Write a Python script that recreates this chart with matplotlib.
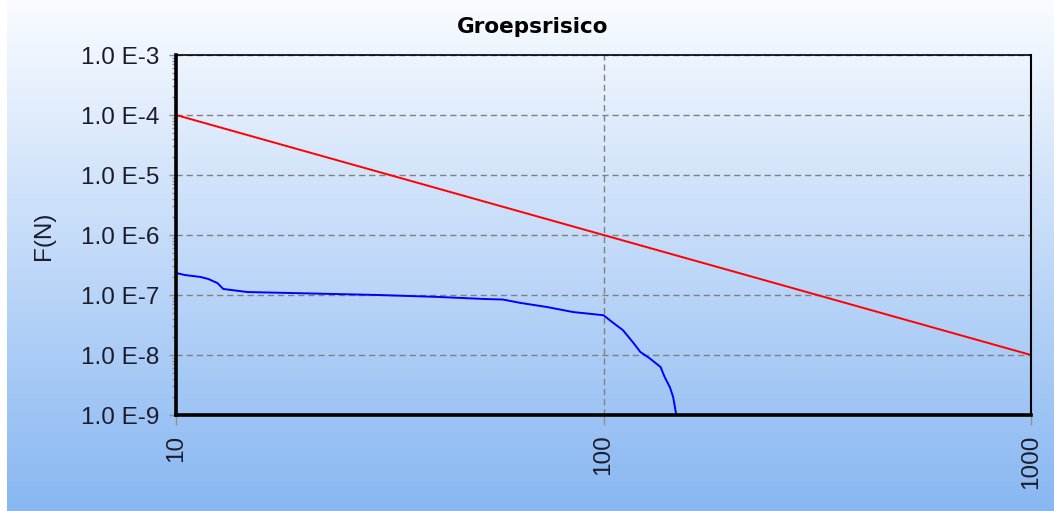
import numpy as np
import matplotlib
matplotlib.use('Agg')
import matplotlib.pyplot as plt
from matplotlib.ticker import LogLocator, FixedLocator, FuncFormatter, NullLocator

# Norm line (orientatiewaarde)
norm_n = [10, 1000]
norm_f = [1e-4, 1e-8]

# FN-curve, values
fn_n = [10, 10.5, 11.4, 11.9, 12.5, 12.9, 14.7, 18.5, 29.7, 40.8, 52.3, 58.2,
        63.8, 73.8, 84.9, 100, 105, 111, 117, 122, 128, 136, 139, 143, 145.5, 148]
fn_f = [2.33e-7, 2.15e-7, 2.0e-7, 1.85e-7, 1.58e-7, 1.26e-7, 1.12e-7, 1.08e-7,
        1.0e-7, 9.3e-8, 8.6e-8, 8.4e-8, 7.4e-8, 6.3e-8, 5.2e-8, 4.6e-8, 3.5e-8,
        2.6e-8, 1.65e-8, 1.12e-8, 8.9e-9, 6.3e-9, 4.3e-9, 2.9e-9, 2.0e-9, 1.0e-9]

x_ticks = [10, 100, 1000]
y_ticks = [1e-9, 1e-8, 1e-7, 1e-6, 1e-5, 1e-4, 1e-3]

W, H = 1054, 511
fig = plt.figure(figsize=(W / 100, H / 100), dpi=100)
fig.patch.set_facecolor('white')

# achtergrond met verloop (wit boven, lichtblauw onder)
bg = fig.add_axes([7 / W, 0, 1 - 7 / W, 1], zorder=-10)
top = np.array([250, 252, 255]) / 255
bot = np.array([136, 183, 242]) / 255
t = np.linspace(0, 1, 256)[:, None]
grad = (top[None, :] * (1 - t) + bot[None, :] * t)[:, None, :]
bg.imshow(grad, aspect='auto', extent=[0, 1, 0, 1])
bg.axis('off')

ax = fig.add_axes([176 / W, 1 - 415 / H, (1031 - 176) / W, (415 - 55) / H])
ax.set_facecolor('none')

ax.plot(norm_n, norm_f, color='#ff0000', linewidth=1.4, zorder=3)
ax.plot(fn_n, fn_f, color='#0000ff', linewidth=1.4, zorder=3)

ax.set_xscale('log')
ax.set_yscale('log')
ax.set_xlim(10, 1000)
ax.set_ylim(1e-9, 1e-3)

ax.xaxis.set_major_locator(FixedLocator(x_ticks))
ax.xaxis.set_minor_locator(NullLocator())
ax.yaxis.set_major_locator(FixedLocator(y_ticks))
ax.yaxis.set_minor_locator(LogLocator(base=10, subs=np.arange(2, 10), numticks=20))

ax.xaxis.set_major_formatter(FuncFormatter(lambda v, p: f"{v:.0f}"))
ax.yaxis.set_major_formatter(FuncFormatter(lambda v, p: f"1.0 E{int(round(np.log10(v)))}"))
ax.yaxis.set_minor_formatter(FuncFormatter(lambda v, p: ""))

lbl_font = 'Liberation Sans'
for lab in ax.get_yticklabels():
    lab.set_fontfamily(lbl_font)
    lab.set_fontsize(17.5)
    lab.set_color('#1c1c2c')
for lab in ax.get_xticklabels():
    lab.set_fontfamily(lbl_font)
    lab.set_fontsize(17.5)
    lab.set_rotation(90)
    lab.set_color('#1c1c2c')

ax.tick_params(axis='y', which='major', length=5, width=1, color='#909090', pad=7)
ax.tick_params(axis='x', which='major', length=7, width=1, color='#909090', pad=7)
ax.tick_params(axis='y', which='minor', length=3, width=1, color='#909090')

ax.grid(True, which='major', color='#808080', linestyle=(0, (4.5, 2.8)), linewidth=1)

ax.spines['left'].set_linewidth(2.6)
ax.spines['bottom'].set_linewidth(2.6)
ax.spines['top'].set_linewidth(1.2)
ax.spines['right'].set_linewidth(1.5)
for s in ax.spines.values():
    s.set_color('black')
    s.set_zorder(4)

ax.set_ylabel('F(N)', fontfamily=lbl_font, fontsize=17.5, color='#1c1c2c')
ax.yaxis.set_label_coords(-0.1415, 0.497)

fig.text(533 / W, 1 - 27 / H, 'Groepsrisico', ha='center', va='center',
         fontsize=15.5, fontweight='bold', fontfamily='DejaVu Sans', color='black')

fig.savefig('out.png', dpi=100)
